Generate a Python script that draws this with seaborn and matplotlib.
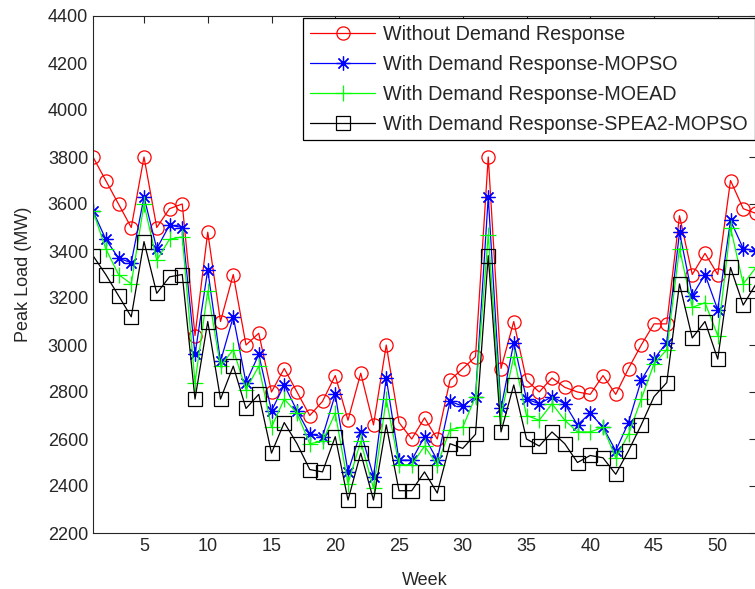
import numpy as np
import pandas as pd
import matplotlib
matplotlib.use("Agg")
import matplotlib.pyplot as plt
import seaborn as sns

weeks = list(range(1, 54))

without_dr = [3800, 3700, 3600, 3500, 3800, 3500, 3580, 3600, 3040, 3480,
              3100, 3300, 3000, 3050, 2800, 2900, 2800, 2700, 2760, 2870,
              2680, 2880, 2660, 3000, 2670, 2600, 2690, 2600, 2850, 2900,
              2950, 3800, 2900, 3100, 2850, 2800, 2860, 2820, 2800, 2790,
              2870, 2790, 2900, 3000, 3090, 3090, 3550, 3300, 3390, 3300,
              3700, 3580, 3560]
mopso = [3570, 3450, 3370, 3350, 3630, 3410, 3510, 3500, 2960, 3320,
         2930, 3120, 2840, 2960, 2720, 2830, 2720, 2620, 2610, 2790,
         2460, 2630, 2440, 2860, 2510, 2510, 2610, 2510, 2760, 2740,
         2780, 3630, 2730, 3010, 2770, 2750, 2780, 2750, 2660, 2710,
         2650, 2550, 2670, 2850, 2940, 3010, 3480, 3210, 3300, 3150,
         3530, 3410, 3400]
moead = [3570, 3410, 3300, 3260, 3600, 3360, 3450, 3460, 2840, 3230,
         2910, 2980, 2810, 2910, 2650, 2770, 2710, 2580, 2590, 2710,
         2410, 2590, 2390, 2770, 2490, 2490, 2570, 2490, 2640, 2650,
         2780, 3470, 2700, 2950, 2700, 2680, 2750, 2680, 2630, 2630,
         2650, 2520, 2620, 2770, 2920, 2980, 3410, 3160, 3180, 3040,
         3500, 3260, 3330]
spea2_mopso = [3380, 3300, 3210, 3120, 3440, 3220, 3290, 3300, 2770, 3100,
               2770, 2910, 2730, 2790, 2540, 2670, 2580, 2470, 2460, 2610,
               2340, 2540, 2340, 2660, 2380, 2380, 2460, 2370, 2580, 2560,
               2620, 3380, 2630, 2830, 2600, 2570, 2630, 2580, 2500, 2530,
               2520, 2450, 2550, 2660, 2780, 2840, 3260, 3030, 3100, 2940,
               3330, 3170, 3260]

labels = ["Without Demand Response",
          "With Demand Response-MOPSO",
          "With Demand Response-MOEAD",
          "With Demand Response-SPEA2-MOPSO"]
colors = ["#ff0000", "#0000ff", "#00ff00", "#000000"]
# matlab-like markers: open circle, 8-arm asterisk, plus, open square
markers = ["o", (8, 2, 0), "+", "s"]
sizes = [9.5, 10, 11, 9.5]

sns.set_style("white")
plt.rcParams["font.family"] = ["Liberation Sans", "DejaVu Sans"]

fig = plt.figure(figsize=(7.55, 5.89), dpi=100)
ax = fig.add_axes([93 / 755, 56 / 589, 663 / 755, 517 / 589])

for series, label, color, marker, ms in zip(
        [without_dr, mopso, moead, spea2_mopso], labels, colors, markers, sizes):
    df = pd.DataFrame({"Week": weeks, "Load": series})
    sns.lineplot(data=df, x="Week", y="Load", ax=ax, color=color,
                 marker=marker, markersize=ms, markerfacecolor="none",
                 markeredgecolor=color, markeredgewidth=0.9,
                 linewidth=0.9, label=label)

ax.set_xlim(1, 53)
ax.set_ylim(2200, 4400)
ax.set_xticks(range(5, 51, 5))
ax.set_yticks(range(2200, 4401, 200))
ax.tick_params(direction="in", top=True, right=True, length=5,
               labelsize=13, colors="#262626", width=0.8)
for s in ax.spines.values():
    s.set_color("#262626")
    s.set_linewidth(0.8)
ax.set_xlabel("Week", fontsize=13, labelpad=12)
ax.set_ylabel("Peak Load (MW)", fontsize=13, labelpad=11)

leg = ax.legend(loc="upper left", bbox_to_anchor=(0.317, 0.996),
                fontsize=14.2, frameon=True, fancybox=False,
                framealpha=1, edgecolor="black", borderaxespad=0,
                handlelength=3.3, handletextpad=0.4, labelspacing=0.55,
                borderpad=0.35)
leg.get_frame().set_linewidth(0.9)

fig.savefig("out.png", dpi=100, facecolor="white")
